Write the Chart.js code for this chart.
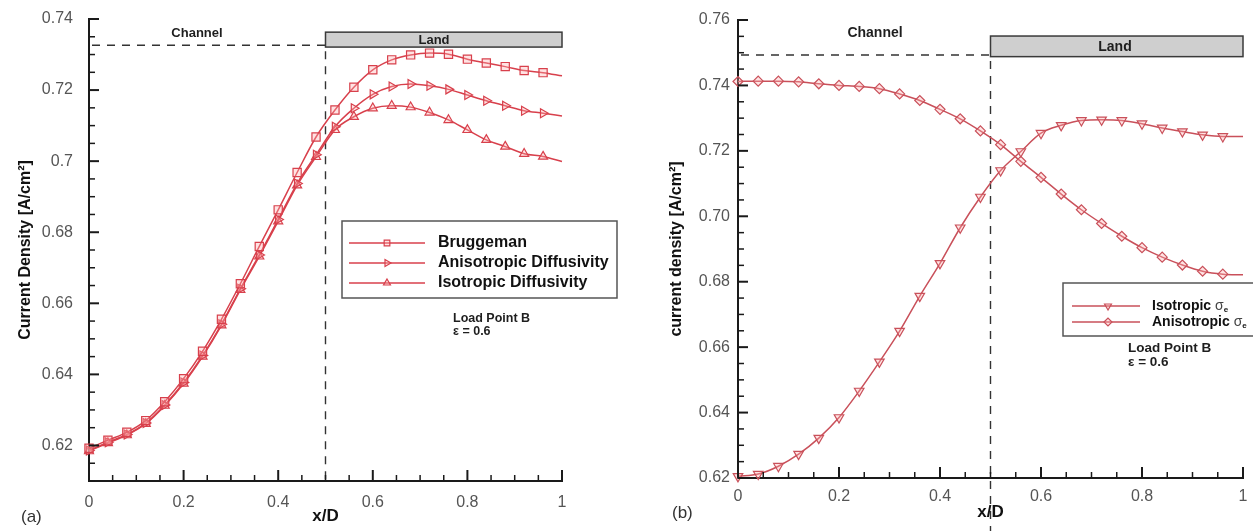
<!DOCTYPE html>
<html>
<head>
<meta charset="utf-8">
<title>Current density along x/D</title>
<script src="https://cdn.jsdelivr.net/npm/chart.js@4.4.1/dist/chart.umd.min.js"></script>
<style>
  html, body { margin: 0; padding: 0; background: #fff; }
  #wrap { position: relative; width: 1253px; height: 531px; overflow: hidden; }
  .panel { position: absolute; top: 0; height: 531px; }
  #panelA { left: 0; width: 626px; }
  #panelB { left: 626px; width: 627px; }
</style>
</head>
<body>
<div id="wrap">
  <div class="panel" id="panelA"><canvas id="chartA" width="626" height="531"></canvas></div>
  <div class="panel" id="panelB"><canvas id="chartB" width="627" height="531"></canvas></div>
</div>
<script>
const FONT = "'Liberation Sans', Arial, Helvetica, sans-serif";

// x/D stations; symbols every 0.04, the curve itself runs on to x/D = 1
const xD = [0, 0.04, 0.08, 0.12, 0.16, 0.2, 0.24, 0.28, 0.32, 0.36, 0.4, 0.44, 0.48,
            0.52, 0.56, 0.6, 0.64, 0.68, 0.72, 0.76, 0.8, 0.84, 0.88, 0.92, 0.96, 1];

// (a) current density [A/cm2], three diffusivity models
const bruggeman = [0.6192, 0.6215, 0.6237, 0.6270, 0.6323, 0.6388, 0.6465, 0.6555, 0.6655,
                   0.6760, 0.6863, 0.6968, 0.7068, 0.7144, 0.7208, 0.7257, 0.7285, 0.7299,
                   0.7304, 0.7301, 0.7287, 0.7276, 0.7266, 0.7255, 0.7249, 0.7240];
const anisoDiff = [0.6186, 0.6209, 0.6231, 0.6263, 0.6314, 0.6377, 0.6453, 0.6541, 0.6641,
                   0.6736, 0.6836, 0.6937, 0.7018, 0.7097, 0.7149, 0.7188, 0.7210, 0.7217,
                   0.7212, 0.7202, 0.7186, 0.7170, 0.7156, 0.7142, 0.7135, 0.7127];
const isoDiff   = [0.6184, 0.6207, 0.6229, 0.6261, 0.6312, 0.6374, 0.6450, 0.6538, 0.6638,
                   0.6732, 0.6831, 0.6932, 0.7012, 0.7088, 0.7125, 0.7149, 0.7156, 0.7152,
                   0.7137, 0.7116, 0.7088, 0.7060, 0.7041, 0.7021, 0.7013, 0.6999];

// (b) current density [A/cm2], isotropic vs anisotropic electronic conductivity
const isoSigma   = [0.6205, 0.6212, 0.6236, 0.6273, 0.6322, 0.6385, 0.6466, 0.6555, 0.6649,
                    0.6756, 0.6856, 0.6965, 0.7059, 0.7140, 0.7198, 0.7254, 0.7278, 0.7293,
                    0.7295, 0.7293, 0.7283, 0.7270, 0.7259, 0.7249, 0.7244, 0.7244];
const anisoSigma = [0.7412, 0.7413, 0.7413, 0.7411, 0.7405, 0.7400, 0.7397, 0.7390, 0.7374,
                    0.7354, 0.7327, 0.7298, 0.7261, 0.7219, 0.7168, 0.7119, 0.7068, 0.7020,
                    0.6978, 0.6939, 0.6904, 0.6875, 0.6851, 0.6832, 0.6823, 0.6821];

const xTicks  = [0, 0.2, 0.4, 0.6, 0.8, 1];
const yTicksA = [0.62, 0.64, 0.66, 0.68, 0.7, 0.72, 0.74];
const yTicksB = [0.62, 0.64, 0.66, 0.68, 0.7, 0.72, 0.74, 0.76];

const namesA = ['Bruggeman', 'Anisotropic Diffusivity', 'Isotropic Diffusivity'];
const namesB = ['Isotropic', 'Anisotropic'];

const RED_A = '#d8404c';
const RED_B = '#c9505a';
const SYMBOL_FILL = 'rgba(255, 175, 175, 0.35)';

function series(label, values, style, rotation, radius, color) {
  return {
    label: label,
    data: xD.map((x, i) => ({ x: x, y: values[i] })),
    borderColor: color,
    borderWidth: 1.5,
    pointStyle: style,
    pointRotation: rotation,
    // no symbol on the closing station at x/D = 1
    pointRadius: xD.map((x, i) => (i === xD.length - 1 ? 0 : radius)),
    pointBorderWidth: 1.2,
    pointBorderColor: color,
    pointBackgroundColor: SYMBOL_FILL,
    cubicInterpolationMode: 'monotone',
    clip: false
  };
}

function minorValues(min, max, step, majors) {
  const out = [];
  for (let v = min; v <= max + 1e-9; v += step) {
    if (!majors.some(m => Math.abs(m - v) < 1e-6)) out.push(v);
  }
  return out;
}

// inward ticks, channel/land markers, legend and notes
const decor = {
  id: 'decor',
  beforeDatasetsDraw(chart, args, o) {
    const { ctx, scales: { x, y } } = chart;
    const xb = x.getPixelForValue(0.5);
    const yc = y.getPixelForValue(o.channelY);
    ctx.save();
    ctx.strokeStyle = '#333';
    ctx.lineWidth = 1.4;
    ctx.setLineDash([8, 7]);
    ctx.beginPath();
    ctx.moveTo(x.left + 3, yc);
    ctx.lineTo(xb, yc);
    ctx.stroke();
    ctx.beginPath();
    ctx.moveTo(xb, yc + 6);
    ctx.lineTo(xb, o.dashBottom || y.bottom);
    ctx.stroke();
    ctx.setLineDash([]);

    const lt = y.getPixelForValue(o.land[1]);
    const lb = y.getPixelForValue(o.land[0]);
    ctx.fillStyle = '#cfcfcf';
    ctx.fillRect(xb, lt, x.right - xb, lb - lt);
    ctx.strokeStyle = '#3a3a3a';
    ctx.lineWidth = 1.5;
    ctx.strokeRect(xb, lt, x.right - xb, lb - lt);

    ctx.fillStyle = '#1e1e1e';
    ctx.font = 'bold ' + o.labelSize + 'px ' + FONT;
    ctx.textAlign = 'center';
    ctx.textBaseline = 'middle';
    ctx.fillText('Land', o.landText[0], (lt + lb) / 2 + 1);
    ctx.fillText('Channel', o.channelText[0], o.channelText[1]);
    ctx.restore();
  },
  afterDraw(chart, args, o) {
    const { ctx, scales: { x, y } } = chart;
    ctx.save();
    ctx.strokeStyle = '#1a1a1a';
    const tick = (scale, values, len, width) => {
      ctx.lineWidth = width;
      values.forEach(v => {
        const p = scale.getPixelForValue(v);
        ctx.beginPath();
        if (scale.isHorizontal()) {
          ctx.moveTo(p, scale.top);
          ctx.lineTo(p, scale.top - len);
        } else {
          ctx.moveTo(scale.right, p);
          ctx.lineTo(scale.right + len, p);
        }
        ctx.stroke();
      });
    };
    tick(x, xTicks, 11, 2);
    tick(x, minorValues(0, 1, 0.05, xTicks), 6, 1.5);
    tick(y, o.yMajors, 10, 2);
    tick(y, minorValues(y.min, y.max, 0.005, o.yMajors), 6, 1.5);

    // legend
    const L = o.legend;
    ctx.strokeStyle = '#555';
    ctx.lineWidth = 1.5;
    ctx.fillStyle = '#fff';
    ctx.fillRect(L.box[0], L.box[1], L.box[2] - L.box[0], L.box[3] - L.box[1]);
    ctx.strokeRect(L.box[0], L.box[1], L.box[2] - L.box[0], L.box[3] - L.box[1]);
    chart.data.datasets.forEach((ds, i) => {
      const ry = L.rows[i];
      ctx.strokeStyle = ds.borderColor;
      ctx.lineWidth = 1.5;
      ctx.beginPath();
      ctx.moveTo(L.line[0], ry);
      ctx.lineTo(L.line[1], ry);
      ctx.stroke();
      ctx.fillStyle = SYMBOL_FILL;
      ctx.lineWidth = 1.2;
      Chart.helpers.drawPoint(ctx, {
        pointStyle: ds.pointStyle, rotation: ds.pointRotation,
        radius: L.radius, borderWidth: 1.2
      }, L.marker, ry);
      ctx.fillStyle = '#111';
      ctx.textAlign = 'left';
      ctx.textBaseline = 'middle';
      ctx.font = 'bold ' + L.size + 'px ' + FONT;
      ctx.fillText(L.names[i], L.text, ry);
      if (L.sigma) {
        let tx = L.text + ctx.measureText(L.names[i] + ' ').width;
        ctx.font = L.size + 'px ' + FONT;
        ctx.fillStyle = '#444';
        ctx.fillText('σ', tx, ry);
        tx += ctx.measureText('σ').width;
        ctx.font = 'bold ' + Math.round(L.size * 0.6) + 'px ' + FONT;
        ctx.fillStyle = '#111';
        ctx.fillText('e', tx, ry + 4);
      }
    });

    // operating point note
    ctx.fillStyle = '#1e1e1e';
    ctx.textAlign = 'left';
    ctx.font = 'bold ' + o.note.size + 'px ' + FONT;
    ctx.fillText('Load Point B', o.note.x, o.note.y[0]);
    ctx.fillText('ε = 0.6', o.note.x, o.note.y[1]);

    ctx.fillStyle = '#333';
    ctx.font = '17px ' + FONT;
    ctx.fillText(o.tag.text, o.tag.x, o.tag.y);
    ctx.restore();
  }
};

// keep the plot frame where it is: no extra room for label overhang
function noOverhang(s) {
  s.paddingTop = 0;
  s.paddingBottom = 0;
  s.paddingLeft = 0;
  s.paddingRight = 0;
}

function axes(opt) {
  return {
    x: {
      type: 'linear', min: 0, max: 1,
      afterBuildTicks: s => { s.ticks = xTicks.map(v => ({ value: v })); },
      afterFit: s => { s.height = opt.xHeight; noOverhang(s); },
      grid: { display: false, drawTicks: false },
      border: { display: true, color: '#1a1a1a', width: 2 },
      ticks: {
        color: '#555', padding: opt.xPad, maxRotation: 0, autoSkip: false,
        font: { family: FONT, size: 16 },
        callback: v => String(v)
      },
      title: {
        display: true, text: 'x/D', color: '#111',
        font: { family: FONT, size: 17, weight: 'bold' },
        padding: { top: 0, bottom: opt.xTitlePad }
      }
    },
    y: {
      type: 'linear', min: opt.yMin, max: opt.yMax,
      afterBuildTicks: s => { s.ticks = opt.yTicks.map(v => ({ value: v })); },
      afterFit: s => { s.width = opt.yWidth; noOverhang(s); },
      grid: { display: false, drawTicks: false },
      border: { display: true, color: '#1a1a1a', width: 2 },
      ticks: {
        color: '#555', padding: opt.yPad, autoSkip: false,
        font: { family: FONT, size: 16 },
        callback: opt.yFormat
      },
      title: {
        display: true, text: opt.yTitle, color: '#111',
        font: { family: FONT, size: 16, weight: 'bold' },
        padding: { top: opt.yTitlePad, bottom: 0 }
      }
    }
  };
}

const common = {
  type: 'line',
  plugins: [decor]
};

new Chart(document.getElementById('chartA'), Object.assign({}, common, {
  data: {
    datasets: [
      series(namesA[0], bruggeman, 'rect', 0, 5.8, RED_A),
      series(namesA[1], anisoDiff, 'triangle', 90, 5.2, RED_A),
      series(namesA[2], isoDiff, 'triangle', 0, 5.2, RED_A)
    ]
  },
  options: {
    responsive: false,
    animation: false,
    events: [],
    layout: { padding: { left: 0, top: 19, right: 64, bottom: 0 } },
    scales: axes({
      xHeight: 50, xPad: 12, xTitlePad: 4,
      yMin: 0.61, yMax: 0.74, yTicks: yTicksA, yWidth: 89, yPad: 16, yTitlePad: 16,
      yTitle: 'Current Density [A/cm²]',
      yFormat: v => String(v)
    }),
    plugins: {
      legend: { display: false },
      tooltip: { enabled: false },
      decor: {
        yMajors: yTicksA,
        channelY: 0.7326, land: [0.7321, 0.7363],
        labelSize: 13, landText: [434, 0], channelText: [197, 33],
        legend: {
          box: [342, 221, 617, 298], rows: [243, 263, 283], line: [349, 425],
          marker: 387, radius: 4, text: 438, size: 16, names: namesA
        },
        note: { x: 453, y: [319, 332], size: 12.5 },
        tag: { text: '(a)', x: 21, y: 517 }
      }
    }
  }
}));

new Chart(document.getElementById('chartB'), Object.assign({}, common, {
  data: {
    datasets: [
      series('Isotropic σe', isoSigma, 'triangle', 180, 5.5, RED_B),
      series('Anisotropic σe', anisoSigma, 'rectRot', 0, 5, RED_B)
    ]
  },
  options: {
    responsive: false,
    animation: false,
    events: [],
    layout: { padding: { left: 0, top: 20, right: 10, bottom: 0 } },
    scales: axes({
      xHeight: 53, xPad: 9, xTitlePad: 8,
      yMin: 0.62, yMax: 0.76, yTicks: yTicksB, yWidth: 112, yPad: 8, yTitlePad: 41,
      yTitle: 'current density [A/cm²]',
      yFormat: v => v.toFixed(2)
    }),
    plugins: {
      legend: { display: false },
      tooltip: { enabled: false },
      decor: {
        yMajors: yTicksB,
        channelY: 0.7493, land: [0.7488, 0.7551], dashBottom: 531,
        labelSize: 14, landText: [489, 0], channelText: [249, 33],
        legend: {
          box: [437, 283, 640, 336], rows: [306, 322], line: [446, 514],
          marker: 482, radius: 4, text: 526, size: 14, names: namesB, sigma: true
        },
        note: { x: 502, y: [348, 362], size: 13.5 },
        tag: { text: '(b)', x: 46, y: 513 }
      }
    }
  }
}));
</script>
</body>
</html>
